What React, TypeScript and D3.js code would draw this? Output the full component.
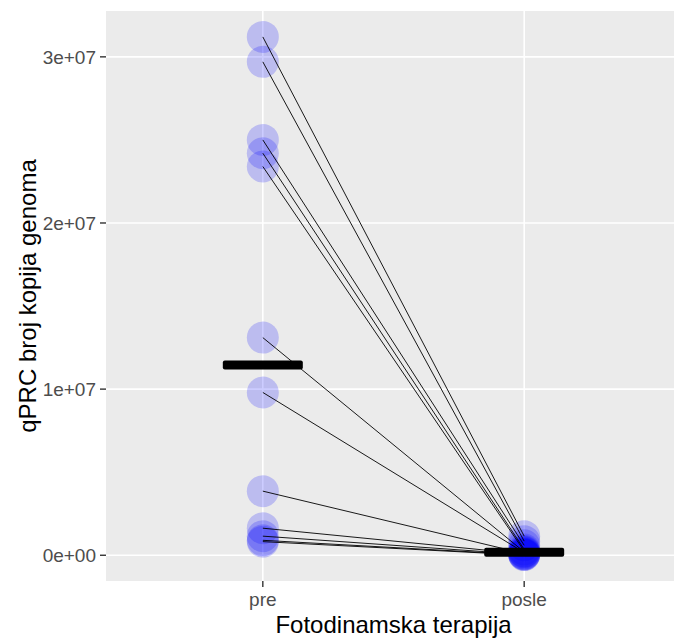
import React, { useEffect, useRef } from 'react';
import * as d3 from 'd3';

const groups = ['pre', 'posle'];
const preValues = [31200000, 29700000, 25000000, 24200000, 23400000, 13100000, 9800000, 3860000, 1630000, 1150000, 900000, 820000];
const posleValues = [1150000, 850000, 600000, 350000, 250000, 200000, 160000, 100000, 80000, 50000, 30000, 10000];
const yTicks = [0, 10000000, 20000000, 30000000];
const yTickLabels = ['0e+00', '1e+07', '2e+07', '3e+07'];

function App() {
    const ref = useRef();

    useEffect(() => {
        const svg = d3.select(ref.current);
        svg.selectAll('*').remove();

        const W = 674, H = 639;
        const margin = { top: 11, right: -7, bottom: 58, left: 106 };
        const x0 = margin.left, x1 = W - margin.right;
        const y0 = margin.top, y1 = H - margin.bottom;

        const x = d3.scalePoint().domain(groups).range([x0, x1]).padding(0.6);

        const all = preValues.concat(posleValues);
        const lo = d3.min(all), hi = d3.max(all);
        const pad = (hi - lo) * 0.05;
        const y = d3.scaleLinear().domain([lo - pad, hi + pad]).range([y1, y0]);

        const font = 'Liberation Sans, Arial, sans-serif';

        // panel
        svg.append('rect')
            .attr('x', x0).attr('y', y0)
            .attr('width', x1 - x0).attr('height', y1 - y0)
            .attr('fill', '#EBEBEB');

        svg.selectAll('.gy').data(yTicks).enter().append('line')
            .attr('x1', x0).attr('x2', x1)
            .attr('y1', d => y(d)).attr('y2', d => y(d))
            .attr('stroke', '#fff').attr('stroke-width', 1.6);

        svg.selectAll('.gx').data(groups).enter().append('line')
            .attr('x1', d => x(d)).attr('x2', d => x(d))
            .attr('y1', y0).attr('y2', y1)
            .attr('stroke', '#fff').attr('stroke-width', 1.6);

        // points
        const pts = groups.map((g, gi) => (gi === 0 ? preValues : posleValues).map(v => ({ g, v }))).flat();
        svg.selectAll('.pt').data(pts).enter().append('circle')
            .attr('cx', d => x(d.g)).attr('cy', d => y(d.v))
            .attr('r', 16)
            .attr('fill', '#0000FF').attr('fill-opacity', 0.2);

        // paired lines
        svg.selectAll('.pair').data(preValues).enter().append('line')
            .attr('x1', x('pre')).attr('y1', d => y(d))
            .attr('x2', x('posle')).attr('y2', (d, i) => y(posleValues[i]))
            .attr('stroke', '#000').attr('stroke-width', 0.9);

        // medians
        const meds = [d3.median(preValues), d3.median(posleValues)];
        svg.selectAll('.med').data(meds).enter().append('rect')
            .attr('x', (d, i) => x(groups[i]) - 40)
            .attr('y', d => y(d) - 4.5)
            .attr('width', 80).attr('height', 9)
            .attr('rx', 2)
            .attr('fill', '#000');

        // y axis
        const ya = svg.append('g');
        yTicks.forEach((t, i) => {
            ya.append('line')
                .attr('x1', x0 - 6).attr('x2', x0)
                .attr('y1', y(t)).attr('y2', y(t))
                .attr('stroke', '#333').attr('stroke-width', 1.4);
            ya.append('text')
                .attr('x', x0 - 10).attr('y', y(t))
                .attr('dy', '0.36em')
                .attr('text-anchor', 'end')
                .attr('font-family', font).attr('font-size', 19)
                .attr('fill', '#4D4D4D')
                .text(yTickLabels[i]);
        });

        // x axis
        groups.forEach(g => {
            svg.append('line')
                .attr('x1', x(g)).attr('x2', x(g))
                .attr('y1', y1).attr('y2', y1 + 6)
                .attr('stroke', '#333').attr('stroke-width', 1.4);
            svg.append('text')
                .attr('x', x(g)).attr('y', y1 + 25)
                .attr('text-anchor', 'middle')
                .attr('font-family', font).attr('font-size', 19)
                .attr('fill', '#4D4D4D')
                .text(g);
        });

        svg.append('text')
            .attr('x', (x0 + x1) / 2).attr('y', 633)
            .attr('text-anchor', 'middle')
            .attr('font-family', font).attr('font-size', 24)
            .attr('fill', '#000')
            .text('Fotodinamska terapija');

        svg.append('text')
            .attr('transform', 'translate(36,' + ((y0 + y1) / 2) + ') rotate(-90)')
            .attr('text-anchor', 'middle')
            .attr('font-family', font).attr('font-size', 24)
            .attr('fill', '#000')
            .text('qPRC broj kopija genoma');
    }, []);

    return (
        <svg ref={ref} width={674} height={639}
            style={{ position: 'absolute', left: 0, top: 0, background: '#fff' }}></svg>
    );
}

export default App;
